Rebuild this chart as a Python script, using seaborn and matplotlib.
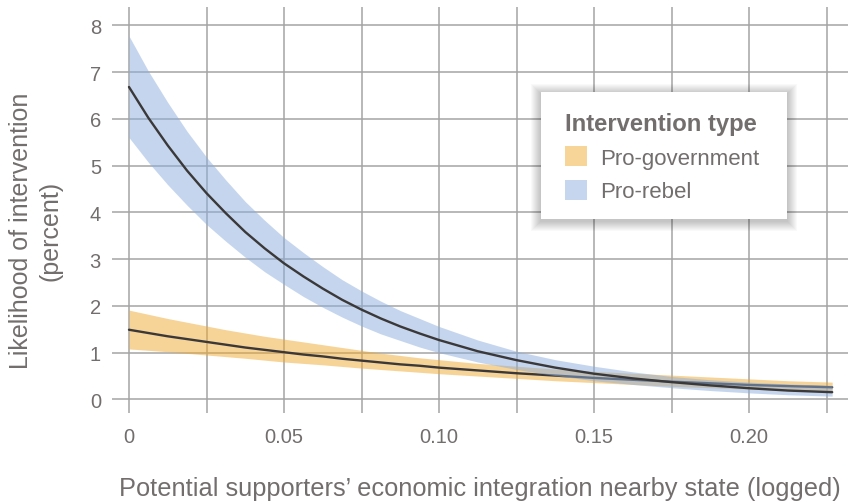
import numpy as np
import pandas as pd
import seaborn as sns
import matplotlib.pyplot as plt
from matplotlib.patches import Patch, Rectangle
from matplotlib.transforms import IdentityTransform

# values
x_vals = [0, 0.00625, 0.0125, 0.01875, 0.025, 0.03125, 0.0375, 0.04375,
          0.05, 0.05625, 0.0625, 0.06875, 0.075, 0.08125, 0.0875, 0.09375,
          0.10, 0.1125, 0.125, 0.1375, 0.15, 0.1625, 0.175, 0.1875,
          0.20, 0.2125, 0.2268]

gov_mean = [1.49, 1.42, 1.35, 1.29, 1.23, 1.17, 1.11, 1.06,
            1.01, 0.96, 0.92, 0.87, 0.83, 0.79, 0.75, 0.72,
            0.68, 0.62, 0.56, 0.51, 0.46, 0.42, 0.38, 0.345,
            0.31, 0.285, 0.26]
gov_upper = [1.91, 1.82, 1.73, 1.65, 1.57, 1.49, 1.42, 1.35,
             1.29, 1.23, 1.17, 1.11, 1.05, 0.99, 0.94, 0.89,
             0.85, 0.77, 0.71, 0.65, 0.60, 0.56, 0.52, 0.48,
             0.44, 0.40, 0.37]
gov_lower = [1.08, 1.05, 1.02, 0.985, 0.95, 0.915, 0.88, 0.84,
             0.80, 0.77, 0.74, 0.705, 0.67, 0.64, 0.61, 0.58,
             0.55, 0.50, 0.45, 0.40, 0.36, 0.32, 0.28, 0.25,
             0.22, 0.19, 0.17]

reb_mean = [6.68, 6.02, 5.43, 4.89, 4.41, 3.98, 3.58, 3.23,
            2.91, 2.63, 2.37, 2.13, 1.92, 1.73, 1.56, 1.41,
            1.27, 1.03, 0.84, 0.68, 0.55, 0.45, 0.37, 0.30,
            0.24, 0.19, 0.155]
reb_upper = [7.77, 7.02, 6.35, 5.73, 5.18, 4.69, 4.23, 3.83,
             3.46, 3.14, 2.84, 2.56, 2.32, 2.10, 1.90, 1.73,
             1.56, 1.27, 1.03, 0.85, 0.71, 0.59, 0.49, 0.42,
             0.37, 0.33, 0.30]
reb_lower = [5.60, 5.07, 4.59, 4.15, 3.74, 3.38, 3.04, 2.73,
             2.46, 2.20, 1.97, 1.76, 1.57, 1.40, 1.26, 1.12,
             1.00, 0.80, 0.64, 0.51, 0.40, 0.32, 0.25, 0.19,
             0.14, 0.10, 0.07]

x_major = [0, 0.05, 0.10, 0.15, 0.20]
x_labels = ['0', '0.05', '0.10', '0.15', '0.20']
x_minor = [0.025, 0.075, 0.125, 0.175, 0.225]
y_ticks = [0, 1, 2, 3, 4, 5, 6, 7, 8]

df = pd.DataFrame({
    'x': x_vals * 2,
    'y': gov_mean + reb_mean,
    'type': ['Pro-government'] * len(x_vals) + ['Pro-rebel'] * len(x_vals),
})

sns.set_theme(style='white')
plt.rcParams['font.family'] = ['Liberation Sans', 'DejaVu Sans']
txt = '#736e6e'

fig = plt.figure(figsize=(8.48, 5.02), dpi=100)
ax = fig.add_axes([112 / 848, 88 / 502, 736 / 848, 406 / 502])
ax.set_facecolor('white')

orange = '#EFA92F'
blue = '#8BADDD'
line_c = '#3a3838'

# pro-government first, then the pro-rebel band over it
ax.fill_between(x_vals, gov_lower, gov_upper, color=orange, alpha=0.5, lw=0, zorder=2)
sns.lineplot(data=df[df.type == 'Pro-government'], x='x', y='y', color=line_c,
             lw=1.7, ax=ax, zorder=3)
ax.fill_between(x_vals, reb_lower, reb_upper, color=blue, alpha=0.5, lw=0, zorder=4)
sns.lineplot(data=df[df.type == 'Pro-rebel'], x='x', y='y', color=line_c,
             lw=1.7, ax=ax, zorder=5)

ax.set_xlim(-0.00548, 0.2319)
ax.set_ylim(-0.29, 8.39)
ax.set_xticks(x_major)
ax.set_xticklabels(x_labels)
ax.set_xticks(x_minor, minor=True)
ax.set_yticks(y_ticks)
ax.grid(True, which='both', color='#a4a4a4', lw=1.1)
ax.set_axisbelow(True)
for s in ax.spines.values():
    s.set_visible(False)
ax.tick_params(axis='both', which='both', length=0, labelsize=14.5, colors=txt)
ax.tick_params(axis='x', pad=10)
ax.tick_params(axis='y', pad=8)

ax.set_xlabel('Potential supporters\u2019 economic integration nearby state (logged)',
              fontsize=18.3, color=txt)
ax.xaxis.set_label_coords(0.5, -0.155)
ax.set_ylabel('Likelihood of intervention\n(percent)', fontsize=18, color=txt,
              linespacing=1.3)
ax.yaxis.set_label_coords(-0.067, 0.45)

handles = [Patch(facecolor='#F7D497', edgecolor='none', label='Pro-government'),
           Patch(facecolor='#C5D6EE', edgecolor='none', label='Pro-rebel')]
leg = ax.legend(handles=handles, title='Intervention type', loc='upper left',
                bbox_to_anchor=(0.6155, 0.741), fontsize=16, title_fontsize=17.2,
                frameon=False, borderpad=0, handlelength=1.0,
                handleheight=1.0, handletextpad=0.6, labelspacing=0.5,
                borderaxespad=0, alignment='left')
leg.get_title().set_fontweight('bold')
leg.get_title().set_color(txt)
for t in leg.get_texts():
    t.set_color(txt)
leg.set_zorder(10)

# white box with a soft shadow behind the legend
fig.canvas.draw()
bb = leg.get_window_extent()
bx0, bx1 = bb.x0 - 24, bb.x1 + 27
by0, by1 = bb.y0 - 17, bb.y1 + 20
for i in range(1, 11):
    ax.add_patch(Rectangle((bx0 - i, by0 - i - 2), bx1 - bx0 + 2 * i, by1 - by0 + 2 * i,
                           transform=IdentityTransform(), facecolor='black',
                           edgecolor='none', alpha=0.022, zorder=8))
ax.add_patch(Rectangle((bx0, by0), bx1 - bx0, by1 - by0, transform=IdentityTransform(),
                       facecolor='white', edgecolor='none', zorder=9))

fig.savefig('out.png', dpi=100)
